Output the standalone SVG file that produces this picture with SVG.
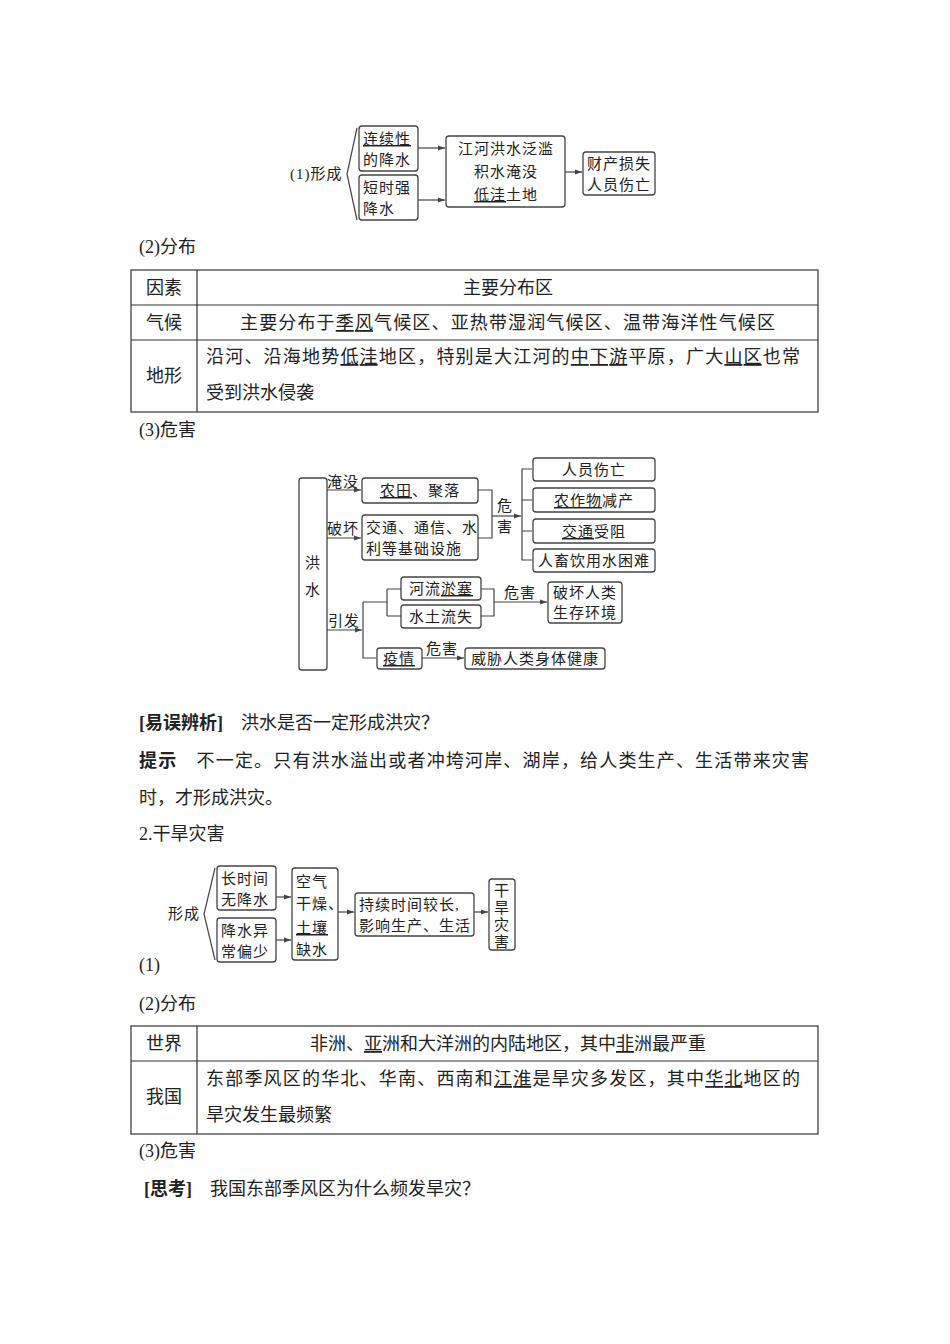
<svg xmlns="http://www.w3.org/2000/svg" width="950" height="1344" viewBox="0 0 950 1344">
<style>
text{font-family:"Liberation Serif","Noto Sans CJK SC",serif;fill:#222}
.b{font-size:18px}
.d{font-size:15px;letter-spacing:1px}
.u{text-decoration:underline}
.bx{fill:#fff;stroke:#444;stroke-width:1.3}
.ln{fill:none;stroke:#444;stroke-width:1.2}
.ar{fill:none;stroke:#444;stroke-width:1.2;marker-end:url(#a)}
.tb{fill:none;stroke:#333;stroke-width:1.2}
</style>
<defs><marker id="a" markerWidth="8" markerHeight="6" refX="7" refY="3" orient="auto" markerUnits="userSpaceOnUse"><path d="M0,0.5 L7,3 L0,5.5 Z" fill="#444"/></marker></defs>
<rect width="950" height="1344" fill="#fff"/>

<!-- Diagram 1 -->
<text class="d" x="290" y="179">(1)形成</text>
<g id="connectors1">
<path class="ln" d="M357,128 L347,174 L357,220"/>
<line class="ar" x1="418" y1="148" x2="445" y2="148"/>
<line class="ar" x1="418" y1="200" x2="445" y2="200"/>
<line class="ar" x1="565" y1="172" x2="582" y2="172"/>
</g>
<g id="n_lianxu"><rect class="bx" x="359" y="126" width="59" height="45" rx="3"/><text class="d" x="363" y="144"><tspan class="u">连续性</tspan></text><text class="d" x="363" y="165">的降水</text></g>
<g id="n_duanshi"><rect class="bx" x="359" y="175" width="59" height="45" rx="3"/><text class="d" x="363" y="193">短时强</text><text class="d" x="363" y="214">降水</text></g>
<g id="n_jianghe"><rect class="bx" x="446" y="136" width="119" height="71" rx="3"/><text class="d" x="506" y="154" text-anchor="middle">江河洪水泛滥</text><text class="d" x="506" y="177" text-anchor="middle">积水淹没</text><text class="d" x="506" y="200" text-anchor="middle"><tspan class="u">低洼</tspan>土地</text></g>
<g id="n_caichan"><rect class="bx" x="583" y="152" width="72" height="43" rx="3"/><text class="d" x="619" y="169" text-anchor="middle">财产损失</text><text class="d" x="619" y="190" text-anchor="middle">人员伤亡</text></g>

<text class="b" x="139" y="253">(2)分布</text>
<g id="table1">
<rect class="tb" x="131" y="270" width="687" height="142"/>
<line class="tb" x1="131" y1="305" x2="818" y2="305"/>
<line class="tb" x1="131" y1="340" x2="818" y2="340"/>
<line class="tb" x1="197" y1="270" x2="197" y2="412"/>
<text class="b" x="164" y="294" text-anchor="middle">因素</text>
<text class="b" x="508" y="294" text-anchor="middle">主要分布区</text>
<text class="b" x="164" y="329" text-anchor="middle">气候</text>
<text class="b" x="240" y="329" textLength="535">主要分布于<tspan class="u">季风</tspan>气候区、亚热带湿润气候区、温带海洋性气候区</text>
<text class="b" x="164" y="382" text-anchor="middle">地形</text>
<text class="b" x="206" y="363" textLength="594">沿河、沿海地势<tspan class="u">低洼</tspan>地区，特别是大江河的<tspan class="u">中下游</tspan>平原，广大<tspan class="u">山区</tspan>也常</text>
<text class="b" x="206" y="399">受到洪水侵袭</text>
</g>
<text class="b" x="139" y="436">(3)危害</text>

<!-- Diagram 3 -->
<g id="connectors3">
<line class="ar" x1="327" y1="490" x2="361" y2="490"/>
<line class="ar" x1="327" y1="538" x2="361" y2="538"/>
<path class="ln" d="M478,490 H492 V538 H478"/>
<line class="ar" x1="492" y1="516" x2="521" y2="516"/>
<path class="ln" d="M532,469 H522 V560 H532 M522,500 H532 M522,531 H532"/>
<line class="ar" x1="327" y1="630" x2="362" y2="630"/>
<path class="ln" d="M363,602 V658 H376 M363,602 H387 M387,589 V616 M387,589 H401 M387,616 H401"/>
<path class="ln" d="M481,589 H494 V616 H481"/>
<line class="ar" x1="494" y1="602" x2="547" y2="602"/>
<line class="ar" x1="422" y1="658" x2="464" y2="658"/>
<text class="d" x="343" y="487" text-anchor="middle">淹没</text>
<text class="d" x="343" y="534" text-anchor="middle">破坏</text>
<text class="d" x="344" y="626" text-anchor="middle">引发</text>
<text class="d" x="505" y="511" text-anchor="middle">危</text>
<text class="d" x="505" y="532" text-anchor="middle">害</text>
<text class="d" x="520" y="598" text-anchor="middle">危害</text>
<text class="d" x="442" y="654" text-anchor="middle">危害</text>
</g>
<g id="n_hongshui"><rect class="bx" x="299" y="478" width="28" height="192" rx="3"/><text class="d" x="313" y="568" text-anchor="middle">洪</text><text class="d" x="313" y="595" text-anchor="middle">水</text></g>
<g id="n_nongtian"><rect class="bx" x="362" y="478" width="116" height="25" rx="3"/><text class="d" x="420" y="496" text-anchor="middle"><tspan class="u">农田</tspan>、聚落</text></g>
<g id="n_jiaotong"><rect class="bx" x="362" y="515" width="116" height="45" rx="3"/><text class="d" x="366" y="533">交通、通信、水</text><text class="d" x="366" y="554">利等基础设施</text></g>
<g id="n_renyuan"><rect class="bx" x="533" y="458" width="122" height="23" rx="3"/><text class="d" x="594" y="475" text-anchor="middle">人员伤亡</text></g>
<g id="n_nongzuo"><rect class="bx" x="533" y="488" width="122" height="24" rx="3"/><text class="d" x="594" y="506" text-anchor="middle"><tspan class="u">农作物</tspan>减产</text></g>
<g id="n_shouzu"><rect class="bx" x="533" y="519" width="122" height="24" rx="3"/><text class="d" x="594" y="537" text-anchor="middle"><tspan class="u">交通</tspan>受阻</text></g>
<g id="n_renchu"><rect class="bx" x="533" y="549" width="122" height="23" rx="3"/><text class="d" x="594" y="566" text-anchor="middle">人畜饮用水困难</text></g>
<g id="n_heliu"><rect class="bx" x="401" y="577" width="80" height="23" rx="3"/><text class="d" x="441" y="594" text-anchor="middle">河流<tspan class="u">淤塞</tspan></text></g>
<g id="n_shuitu"><rect class="bx" x="401" y="605" width="80" height="23" rx="3"/><text class="d" x="441" y="622" text-anchor="middle">水土流失</text></g>
<g id="n_pohuai"><rect class="bx" x="548" y="582" width="74" height="41" rx="3"/><text class="d" x="585" y="598" text-anchor="middle">破坏人类</text><text class="d" x="585" y="618" text-anchor="middle">生存环境</text></g>
<g id="n_yiqing"><rect class="bx" x="377" y="648" width="45" height="21" rx="3"/><text class="d" x="399" y="664" text-anchor="middle"><tspan class="u">疫情</tspan></text></g>
<g id="n_weixie"><rect class="bx" x="465" y="648" width="140" height="21" rx="3"/><text class="d" x="535" y="664" text-anchor="middle">威胁人类身体健康</text></g>

<text class="b" x="139" y="729"><tspan font-weight="bold">[易误辨析]</tspan>　洪水是否一定形成洪灾？</text>
<text class="b" x="139" y="767" textLength="670"><tspan font-weight="bold">提示</tspan>　不一定。只有洪水溢出或者冲垮河岸、湖岸，给人类生产、生活带来灾害</text>
<text class="b" x="139" y="804">时，才形成洪灾。</text>
<text class="b" x="139" y="840">2.干旱灾害</text>

<!-- Diagram 4 -->
<text class="d" x="168" y="919">形成</text>
<g id="connectors4">
<path class="ln" d="M215,868 L204,914 L215,960"/>
<line class="ar" x1="276" y1="897" x2="291" y2="897"/>
<line class="ar" x1="276" y1="940" x2="291" y2="940"/>
<line class="ar" x1="338" y1="912" x2="354" y2="912"/>
<line class="ar" x1="474" y1="912" x2="488" y2="912"/>
</g>
<g id="n_changshi"><rect class="bx" x="217" y="866" width="59" height="44" rx="3"/><text class="d" x="221" y="884">长时间</text><text class="d" x="221" y="905">无降水</text></g>
<g id="n_jiangshui"><rect class="bx" x="217" y="918" width="59" height="44" rx="3"/><text class="d" x="221" y="936">降水异</text><text class="d" x="221" y="957">常偏少</text></g>
<g id="n_kongqi"><rect class="bx" x="292" y="868" width="46" height="92" rx="3"/><text class="d" x="296" y="887">空气</text><text class="d" x="296" y="909">干燥、</text><text class="d" x="296" y="933"><tspan class="u">土壤</tspan></text><text class="d" x="296" y="955">缺水</text></g>
<g id="n_chixu"><rect class="bx" x="355" y="893" width="119" height="43" rx="3"/><text class="d" x="359" y="910">持续时间较长,</text><text class="d" x="359" y="931">影响生产、生活</text></g>
<g id="n_ganhan"><rect class="bx" x="489" y="879" width="26" height="71" rx="3"/><text class="d" x="502" y="896" text-anchor="middle">干</text><text class="d" x="502" y="913" text-anchor="middle">旱</text><text class="d" x="502" y="930" text-anchor="middle">灾</text><text class="d" x="502" y="947" text-anchor="middle">害</text></g>
<text class="b" x="139" y="971">(1)</text>

<text class="b" x="139" y="1010">(2)分布</text>
<g id="table2">
<rect class="tb" x="131" y="1026" width="687" height="108"/>
<line class="tb" x1="131" y1="1061" x2="818" y2="1061"/>
<line class="tb" x1="197" y1="1026" x2="197" y2="1134"/>
<text class="b" x="164" y="1050" text-anchor="middle">世界</text>
<text class="b" x="508" y="1050" text-anchor="middle">非洲、<tspan class="u">亚</tspan>洲和大洋洲的内陆地区，其中<tspan class="u">非</tspan>洲最严重</text>
<text class="b" x="164" y="1103" text-anchor="middle">我国</text>
<text class="b" x="206" y="1085" textLength="594">东部季风区的华北、华南、西南和<tspan class="u">江淮</tspan>是旱灾多发区，其中<tspan class="u">华北</tspan>地区的</text>
<text class="b" x="206" y="1121">旱灾发生最频繁</text>
</g>
<text class="b" x="139" y="1157">(3)危害</text>
<text class="b" x="144" y="1195"><tspan font-weight="bold">[思考]</tspan>　我国东部季风区为什么频发旱灾？</text>
</svg>
